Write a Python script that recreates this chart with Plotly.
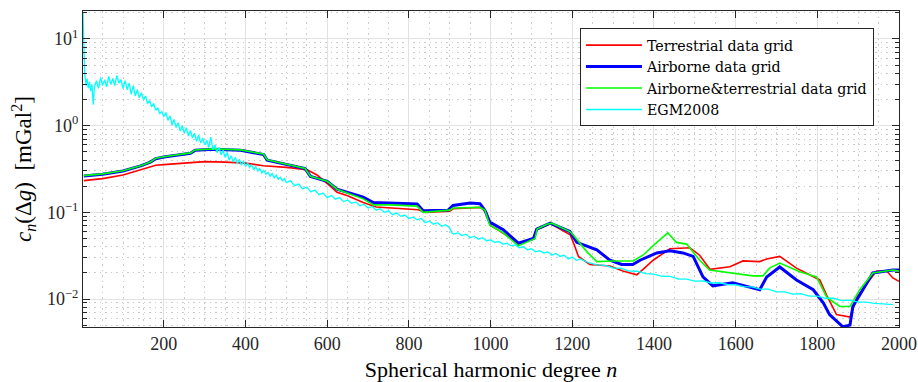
import plotly.graph_objects as go

# ---------------- data ----------------
terr_n = [4, 50, 100, 143, 167, 180, 200, 250, 300, 350, 400, 444, 500, 551, 575, 600, 624, 650, 688, 720, 760, 823, 840, 900, 908, 975, 990, 1000, 1020, 1068, 1105, 1113, 1146, 1177, 1195, 1205, 1215, 1243, 1292, 1324, 1358, 1378, 1398, 1420, 1439, 1488, 1512, 1537, 1586, 1618, 1659, 1676, 1708, 1749, 1806, 1823, 1847, 1880, 1897, 1928, 1945, 1970, 1985, 2000]
terr_v = [0.232, 0.245, 0.27, 0.31, 0.33, 0.35, 0.355, 0.37, 0.385, 0.38, 0.37, 0.345, 0.33, 0.31, 0.27, 0.215, 0.17, 0.155, 0.13, 0.115, 0.112, 0.107, 0.1, 0.103, 0.11, 0.114, 0.1, 0.07, 0.062, 0.044, 0.05, 0.063, 0.074, 0.062, 0.055, 0.042, 0.031, 0.025, 0.024, 0.021, 0.019, 0.023, 0.028, 0.033, 0.038, 0.039, 0.032, 0.022, 0.0235, 0.0275, 0.027, 0.029, 0.031, 0.0227, 0.0166, 0.011, 0.0066, 0.0062, 0.0105, 0.0166, 0.021, 0.021, 0.0175, 0.016]

air_n = [4, 50, 100, 143, 167, 180, 200, 265, 277, 322, 388, 444, 453, 546, 559, 600, 624, 688, 713, 754, 820, 835, 896, 908, 950, 974, 986, 998, 1031, 1068, 1105, 1113, 1146, 1194, 1211, 1260, 1292, 1321, 1348, 1366, 1407, 1439, 1471, 1496, 1520, 1544, 1593, 1627, 1659, 1676, 1708, 1749, 1790, 1815, 1830, 1862, 1880, 1887, 1911, 1936, 1985, 2000]
air_v = [0.262, 0.275, 0.3, 0.343, 0.38, 0.415, 0.435, 0.48, 0.52, 0.535, 0.52, 0.465, 0.4, 0.32, 0.26, 0.228, 0.185, 0.15, 0.13, 0.128, 0.125, 0.104, 0.106, 0.12, 0.128, 0.126, 0.106, 0.077, 0.063, 0.044, 0.05, 0.064, 0.075, 0.06, 0.045, 0.037, 0.028, 0.025, 0.025, 0.028, 0.034, 0.036, 0.034, 0.031, 0.018, 0.0142, 0.0154, 0.014, 0.0128, 0.0179, 0.0234, 0.0166, 0.0128, 0.009, 0.0066, 0.0048, 0.005, 0.0082, 0.0128, 0.02, 0.0216, 0.0216]

comb_n = [4, 50, 100, 143, 167, 180, 200, 265, 277, 322, 388, 444, 453, 546, 559, 600, 624, 688, 713, 754, 820, 835, 900, 908, 974, 986, 998, 1016, 1031, 1068, 1109, 1114, 1138, 1150, 1177, 1194, 1202, 1236, 1260, 1300, 1349, 1373, 1407, 1434, 1455, 1480, 1512, 1536, 1642, 1667, 1683, 1708, 1757, 1798, 1823, 1855, 1880, 1904, 1936, 1985, 2000]
comb_v = [0.265, 0.278, 0.302, 0.345, 0.38, 0.42, 0.437, 0.485, 0.525, 0.54, 0.525, 0.47, 0.405, 0.32, 0.26, 0.228, 0.185, 0.143, 0.122, 0.122, 0.118, 0.1, 0.106, 0.112, 0.114, 0.106, 0.071, 0.063, 0.058, 0.041, 0.05, 0.064, 0.073, 0.075, 0.066, 0.06, 0.055, 0.035, 0.027, 0.0275, 0.0275, 0.032, 0.045, 0.058, 0.045, 0.043, 0.028, 0.0216, 0.0185, 0.0185, 0.0227, 0.026, 0.0206, 0.018, 0.0105, 0.0082, 0.0082, 0.0128, 0.02, 0.0216, 0.021]

egm_n = [2, 3, 4, 5, 6, 8, 10, 12, 15, 18, 21, 24, 27, 30, 35, 40, 45, 50, 55, 60, 65, 70, 75, 80, 85, 90, 95, 100, 105, 110, 115, 120, 125, 130, 135, 140, 145, 150, 155, 160, 165, 170, 175, 180, 185, 190, 195,
         200, 205, 210, 215, 220, 225, 230, 235, 240, 245, 250, 255, 260, 265, 270, 275, 280, 285, 290, 295, 300, 305, 310, 315, 320, 325, 330, 335, 340, 345, 350, 355, 360, 365, 370, 375, 380, 385, 390, 395,
         400, 405, 410, 415, 420, 425, 430, 435, 440, 445, 450, 455, 460, 465, 470, 475, 480, 485, 490, 495,
         500, 510, 520, 530, 540, 550, 560, 570, 580, 590, 600, 610, 620, 630, 640, 650, 660, 670, 680, 690, 700, 710, 720, 730, 740, 750, 760, 770, 780, 790, 800, 810, 820, 830, 840, 850, 860, 870, 880, 890,
         900, 905, 910, 920, 930, 940, 950, 960, 970, 980, 990, 1000, 1010, 1020, 1030, 1040, 1050, 1060, 1070, 1080, 1090, 1100, 1110, 1120, 1130, 1140, 1150, 1160, 1170, 1180, 1190, 1200, 1210, 1220,
         1240, 1260, 1280, 1300, 1320, 1340, 1360, 1380, 1400, 1420, 1440, 1460, 1480, 1500, 1520, 1540, 1560, 1580, 1600, 1620, 1640, 1660, 1680, 1700, 1720, 1740, 1760, 1780, 1800, 1820, 1840, 1860, 1880, 1900, 1920, 1940, 1960, 1985]
egm_v = [20, 11, 6.5, 4.8, 4.0, 3.4, 2.9, 3.5, 2.7, 3.2, 2.5, 3.0, 1.75, 2.8, 3.3, 2.7, 3.6, 2.9, 3.4, 2.8, 3.7, 3.0, 3.5, 2.9, 3.8, 3.1, 3.4, 2.7, 3.3, 2.6, 3.1, 2.3, 2.9, 2.2, 2.6, 2.1, 2.4, 2.0, 2.2, 1.8, 1.95, 1.65, 1.8, 1.5, 1.6, 1.38, 1.45,
         1.28, 1.42, 1.15, 1.3, 1.02, 1.18, 0.95, 1.08, 0.87, 1.0, 0.82, 0.95, 0.76, 0.88, 0.72, 0.82, 0.66, 0.78, 0.63, 0.72, 0.6, 0.68, 0.56, 0.74, 0.53, 0.6, 0.49, 0.56, 0.46, 0.52, 0.43, 0.49, 0.4, 0.45, 0.38, 0.43, 0.36, 0.41, 0.35, 0.39,
         0.34, 0.37, 0.33, 0.355, 0.31, 0.335, 0.3, 0.32, 0.285, 0.305, 0.275, 0.29, 0.26, 0.28, 0.25, 0.268, 0.24, 0.255, 0.232, 0.245,
         0.22, 0.232, 0.203, 0.212, 0.186, 0.196, 0.172, 0.181, 0.16, 0.167, 0.148, 0.156, 0.142, 0.148, 0.133, 0.138, 0.127, 0.132, 0.119, 0.124, 0.112, 0.117, 0.106, 0.11, 0.1, 0.104, 0.094, 0.098, 0.09, 0.093, 0.085, 0.088, 0.082, 0.085, 0.076, 0.079, 0.073, 0.076, 0.069, 0.072,
         0.066, 0.058, 0.056, 0.058, 0.054, 0.056, 0.051, 0.053, 0.049, 0.051, 0.047, 0.048, 0.045, 0.046, 0.043, 0.044, 0.041, 0.042, 0.039, 0.04, 0.037, 0.038, 0.035, 0.036, 0.034, 0.035, 0.032, 0.0335, 0.031, 0.032, 0.029, 0.0305, 0.028, 0.029,
         0.0262, 0.0248, 0.0245, 0.0228, 0.0226, 0.021, 0.0209, 0.0196, 0.0194, 0.0183, 0.0182, 0.017, 0.017, 0.0161, 0.0162, 0.0153, 0.0154, 0.0147, 0.0146, 0.0139, 0.0138, 0.013, 0.013, 0.0121, 0.0121, 0.0114, 0.0115, 0.0108, 0.0108, 0.0102, 0.0102, 0.0096, 0.0097, 0.0092, 0.0092, 0.0089, 0.0088, 0.0086]

x_ticks = [200, 400, 600, 800, 1000, 1200, 1400, 1600, 1800, 2000]
y_ticks = [0.01, 0.1, 1, 10]
y_ticktext = ["10<sup>−2</sup>", "10<sup>−1</sup>", "10<sup>0</sup>", "10<sup>1</sup>"]
y_minor = [m * d for d in [0.001, 0.01, 0.1, 1, 10] for m in range(2, 10)]

FONT = "Liberation Serif"
MINOR_GRID = "#cbcbcb"
MAJOR_GRID = "#e2e2e2"
DOTS = "1.5px,4px"

fig = go.Figure()
fig.add_trace(go.Scatter(x=terr_n, y=terr_v, mode="lines", name="Terrestrial data grid",
                         line=dict(color="#ff0000", width=1.6)))
fig.add_trace(go.Scatter(x=air_n, y=air_v, mode="lines", name="Airborne data grid",
                         line=dict(color="#0000ff", width=3)))
fig.add_trace(go.Scatter(x=comb_n, y=comb_v, mode="lines", name="Airborne&terrestrial data grid",
                         line=dict(color="#00ff00", width=1.6)))
fig.add_trace(go.Scatter(x=egm_n, y=egm_v, mode="lines", name="EGM2008",
                         line=dict(color="#00ffff", width=1.3)))

fig.update_layout(
    width=918, height=382,
    margin=dict(l=83, r=19, t=11, b=55),
    paper_bgcolor="white", plot_bgcolor="white",
    font=dict(family=FONT, size=18, color="#262626"),
    showlegend=True,
    legend=dict(x=0.609, y=0.945, xanchor="left", yanchor="top",
                bgcolor="white", bordercolor="#262626", borderwidth=1,
                font=dict(family="DejaVu Serif", size=14.2, color="#000000"),
                tracegroupgap=0, itemwidth=56),
    xaxis=dict(
        range=[2, 2000], tickvals=x_ticks, ticks="inside", ticklen=7, tickwidth=1,
        tickcolor="#262626", showline=True, linecolor="#262626", linewidth=1, mirror="ticks",
        showgrid=True, gridcolor=MAJOR_GRID, gridwidth=1, zeroline=False, automargin=False,
        minor=dict(dtick=50, tick0=0, showgrid=True, gridcolor=MINOR_GRID, griddash=DOTS, ticks=""),
        title=dict(text="Spherical harmonic degree <i>n</i>", font=dict(family=FONT, size=22, color="#000"),
                   standoff=10),
        tickfont=dict(family=FONT, size=18, color="#262626"),
    ),
    yaxis=dict(
        type="log", range=[-2.323, 1.323], tickvals=y_ticks, ticktext=y_ticktext,
        ticks="inside", ticklen=7, tickwidth=1, tickcolor="#262626",
        showline=True, linecolor="#262626", linewidth=1, mirror="ticks",
        showgrid=True, gridcolor=MAJOR_GRID, gridwidth=1, zeroline=False, automargin=False,
        minor=dict(tickvals=y_minor, ticks="inside", ticklen=4, tickcolor="#262626",
                   showgrid=True, gridcolor=MINOR_GRID, griddash=DOTS),
        title=dict(text="<i>c</i><sub><i>n</i></sub>(Δ<i>g</i>)  [mGal<sup>2</sup>]",
                   font=dict(family=FONT, size=23, color="#000"), standoff=8),
        tickfont=dict(family=FONT, size=18, color="#262626"),
    ),
)

fig.write_html("out.html")
